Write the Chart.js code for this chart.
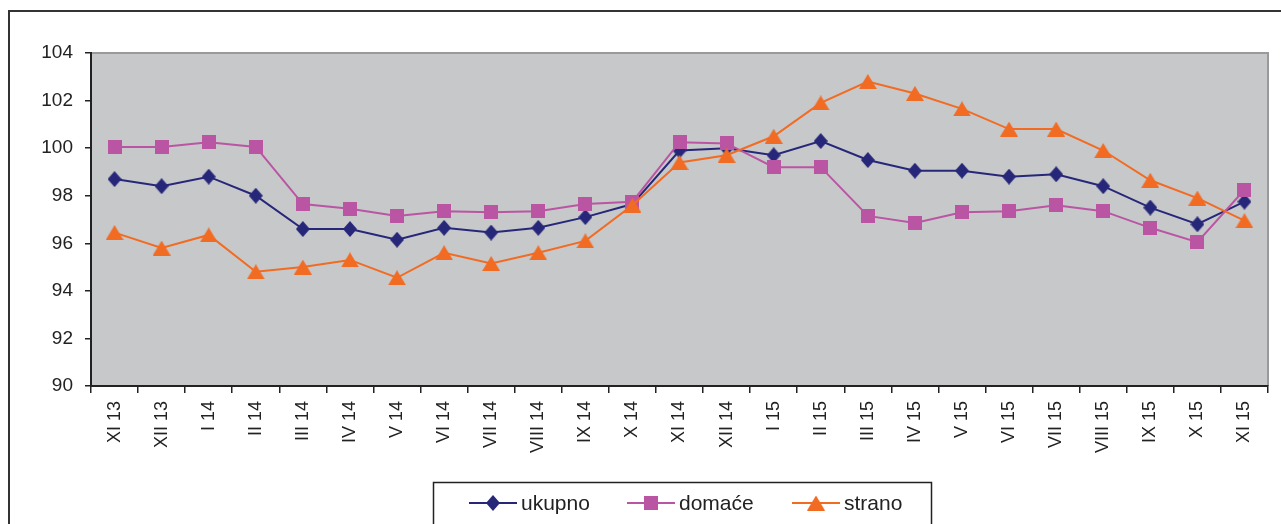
<!DOCTYPE html>
<html><head><meta charset="utf-8">
<script src="https://cdn.jsdelivr.net/npm/chart.js@4/dist/chart.umd.min.js"></script>
<style>html,body{margin:0;padding:0;background:#fff;}#wrap{width:1281px;height:524px;position:relative;overflow:hidden}</style>
</head><body><div id="wrap"><canvas id="c" width="1281" height="524"></canvas></div>
<script>
const categories = ['XI 13','XII 13','I 14','II 14','III 14','IV 14','V 14','VI 14','VII 14','VIII 14','IX 14','X 14','XI 14','XII 14','I 15','II 15','III 15','IV 15','V 15','VI 15','VII 15','VIII 15','IX 15','X 15','XI 15'];
const ukupno = [98.7,98.4,98.8,98.0,96.6,96.6,96.15,96.65,96.45,96.65,97.1,97.65,99.9,100.0,99.7,100.3,99.5,99.05,99.05,98.8,98.9,98.4,97.5,96.8,97.75];
const domace = [100.05,100.05,100.25,100.05,97.65,97.45,97.15,97.35,97.3,97.35,97.65,97.75,100.25,100.2,99.2,99.2,97.15,96.85,97.3,97.35,97.6,97.35,96.65,96.05,98.25];
const strano = [96.45,95.8,96.35,94.8,95.0,95.3,94.55,95.6,95.15,95.6,96.1,97.6,99.4,99.7,100.5,101.9,102.8,102.3,101.65,100.8,100.8,99.9,98.65,97.9,96.95];
const yTicks = [90,92,94,96,98,100,102,104];
const seriesNames = ['ukupno','domaće','strano'];
const seriesColors = ['#27277A','#BA55A3','#F26B22'];

const FONT = "'Liberation Sans', Arial, sans-serif";

function markerImg(kind, color){
  const c = document.createElement('canvas');
  let w, h;
  if (kind==='diamond'){w=14;h=16;} else if(kind==='square'){w=14;h=14;} else {w=18;h=15;}
  c.width=w; c.height=h;
  const g=c.getContext('2d');
  g.fillStyle=color;
  g.beginPath();
  if(kind==='diamond'){g.moveTo(w/2,0);g.lineTo(w,h/2);g.lineTo(w/2,h);g.lineTo(0,h/2);}
  else if(kind==='square'){g.rect(0,0,w,h);}
  else {g.moveTo(w/2,0);g.lineTo(w,h);g.lineTo(0,h);}
  g.closePath(); g.fill();
  return c;
}
const markers = [markerImg('diamond',seriesColors[0]), markerImg('square',seriesColors[1]), markerImg('triangle',seriesColors[2])];

const bgPlugin = {
  id:'bg',
  beforeDraw(chart){
    const ctx=chart.ctx, a=chart.chartArea;
    ctx.save();
    ctx.fillStyle='#fff'; ctx.fillRect(0,0,chart.width,chart.height);
    ctx.strokeStyle='#333'; ctx.lineWidth=2;
    ctx.strokeRect(9,11,1400,700);
    ctx.fillStyle='#C7C8CA';
    ctx.fillRect(a.left,a.top,a.right-a.left,a.bottom-a.top);
    ctx.strokeStyle='#9A9A9A'; ctx.lineWidth=2;
    ctx.beginPath(); ctx.moveTo(a.left,a.top); ctx.lineTo(a.right,a.top); ctx.lineTo(a.right,a.bottom); ctx.stroke();
    ctx.restore();
  }
};
const legendPlugin = {
  id:'customLegend',
  afterDraw(chart){
    const ctx=chart.ctx;
    ctx.save();
    ctx.strokeStyle='#222'; ctx.lineWidth=1.5;
    ctx.strokeRect(433.5,482.5,498,60);
    const starts=[469,627,792];
    const cy=503;
    ctx.font='21px '+FONT;
    ctx.textBaseline='middle';
    ctx.fillStyle='#222';
    seriesNames.forEach((n,i)=>{
      const x=starts[i];
      ctx.strokeStyle=seriesColors[i]; ctx.lineWidth=2;
      ctx.beginPath(); ctx.moveTo(x,cy); ctx.lineTo(x+48,cy); ctx.stroke();
      const m=markers[i];
      ctx.drawImage(m, x+24-m.width/2, cy-m.height/2);
      ctx.fillStyle='#222';
      ctx.fillText(n, x+52, cy+1);
    });
    ctx.restore();
  }
};

const datasets = [ukupno, domace, strano].map((d,i)=>({
  label: seriesNames[i],
  data: d,
  borderColor: seriesColors[i],
  backgroundColor: seriesColors[i],
  borderWidth: 2,
  pointStyle: markers[i],
  pointRadius: 8,
  pointHoverRadius: 8,
  tension: 0,
  order: 2-i
}));

new Chart(document.getElementById('c'), {
  type:'line',
  data:{labels:categories, datasets},
  plugins:[bgPlugin, legendPlugin],
  options:{
    responsive:false, animation:false, events:[],
    layout:{padding:{left:0,top:53,right:13,bottom:0}},
    plugins:{legend:{display:false}, tooltip:{enabled:false}},
    scales:{
      x:{
        offset:true,
        grid:{display:true, drawOnChartArea:false, drawTicks:true, tickLength:7, color:'#222', lineWidth:1.5, offset:true},
        border:{display:true, color:'#222', width:2},
        ticks:{autoSkip:false, minRotation:90, maxRotation:90, padding:8, color:'#222', font:{family:FONT, size:18}},
        afterFit(s){ s.height = 138; }
      },
      y:{
        min:90, max:104,
        afterBuildTicks(s){ s.ticks = yTicks.map(v=>({value:v})); },
        grid:{display:true, drawOnChartArea:false, drawTicks:true, tickLength:6, color:'#222', lineWidth:1.5},
        border:{display:true, color:'#222', width:2},
        ticks:{padding:12, color:'#222', font:{family:FONT, size:19}},
        afterFit(s){ s.width = 91; }
      }
    }
  }
});
</script>
</body></html>
